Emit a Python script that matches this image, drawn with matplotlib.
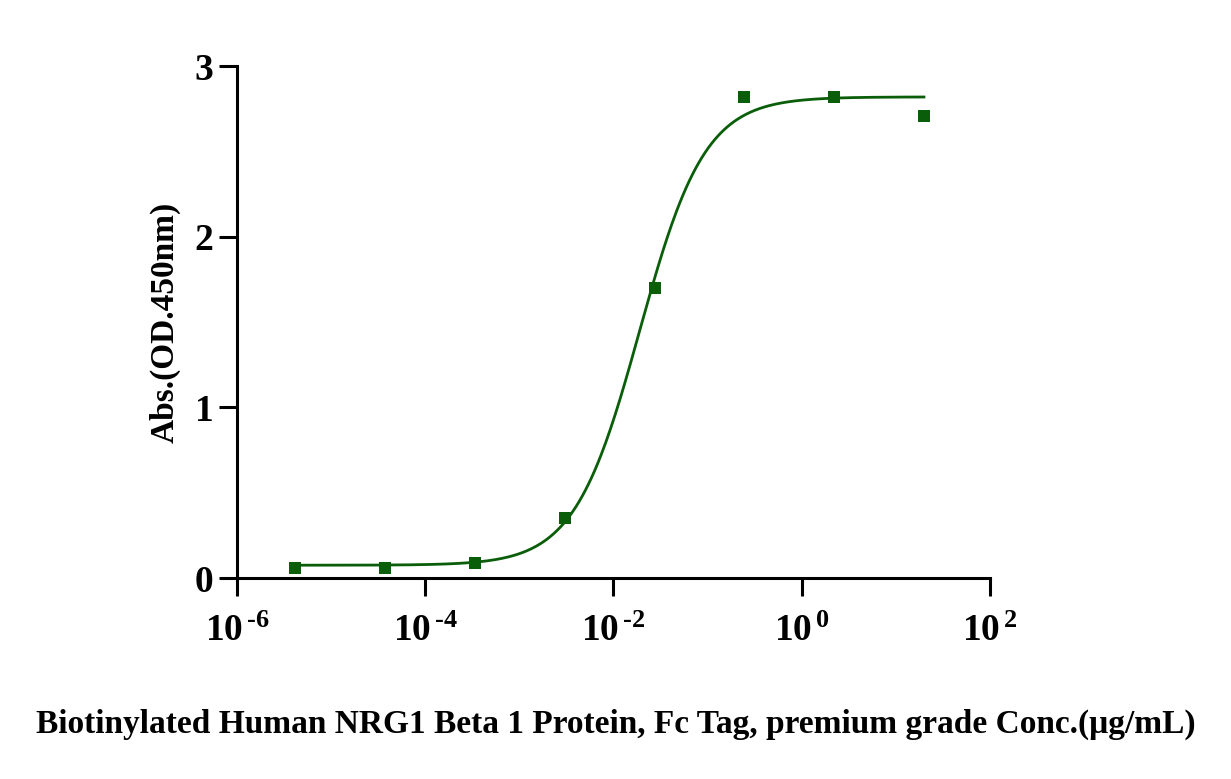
import numpy as np
import matplotlib
matplotlib.use('Agg')
import matplotlib.pyplot as plt

plt.rcParams['font.family'] = 'Liberation Serif'
plt.rcParams['font.weight'] = 'bold'
plt.rcParams['mathtext.fontset'] = 'custom'
plt.rcParams['mathtext.rm'] = 'Liberation Serif:bold'
plt.rcParams['mathtext.bf'] = 'Liberation Serif:bold'
plt.rcParams['mathtext.it'] = 'Liberation Serif:bold'

# measured points
conc = [4.18e-6, 3.76e-5, 3.39e-4, 3.05e-3, 0.0274, 0.247, 2.22, 20.0]
absorb = [0.059, 0.058, 0.088, 0.35, 1.70, 2.82, 2.82, 2.71]

# 4PL fit parameters
bottom = 0.075
top = 2.82
ec50 = 0.019
hill = 1.25

xticks = [1e-6, 1e-4, 1e-2, 1e0, 1e2]
xticklabels = [r'$10^{\,\text{-}6}$', r'$10^{\,\text{-}4}$', r'$10^{\,\text{-}2}$',
               r'$10^{\,0}$', r'$10^{\,2}$']
yticks = [0, 1, 2, 3]

green = '#0a5e0a'

fig = plt.figure(figsize=(12.31, 7.79), dpi=100)
ax = fig.add_axes([0.1925, 0.258, 0.6115, 0.657])

xs = np.logspace(np.log10(conc[0]), np.log10(conc[-1]), 400)
ys = bottom + (top - bottom) / (1 + (ec50 / xs) ** hill)
ax.plot(xs, ys, color=green, lw=2)
ax.plot(conc, absorb, 's', color=green, ms=8, mew=0)

ax.set_xscale('log')
ax.set_xlim(1e-6, 1e2)
ax.set_ylim(0, 3)
ax.set_xticks(xticks)
ax.set_xticklabels(xticklabels)
ax.set_yticks(yticks)
ax.minorticks_off()
ax.tick_params(direction='out', length=13, width=2.2, labelsize=27)
ax.tick_params(axis='x', pad=13)
ax.tick_params(axis='y', pad=4)
for lbl in ax.get_yticklabels():
    lbl.set_fontweight('bold')

for side in ['top', 'right']:
    ax.spines[side].set_visible(False)
for side in ['left', 'bottom']:
    ax.spines[side].set_linewidth(2.2)

ax.set_ylabel('Abs.(OD.450nm)', fontsize=24, fontweight='bold', labelpad=10)
fig.text(0.5, 0.07, 'Biotinylated Human NRG1 Beta 1 Protein, Fc Tag, premium grade Conc.(\u03bcg/mL)',
         ha='center', va='center', fontsize=24, fontweight='bold')

fig.savefig('out.png', dpi=100)
